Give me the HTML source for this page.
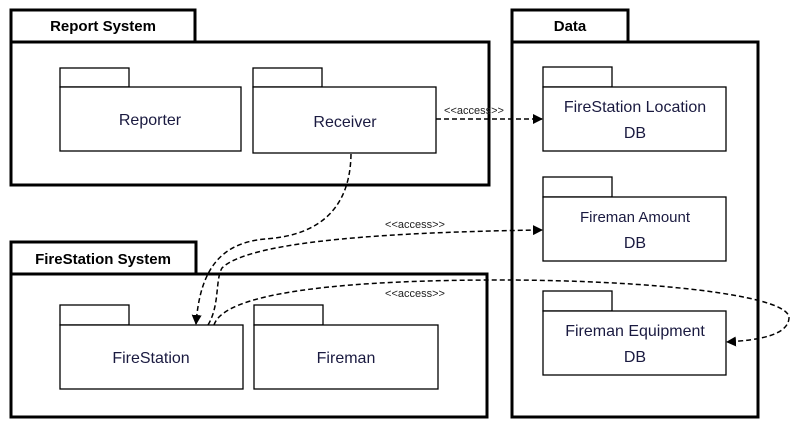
<!DOCTYPE html>
<html><head><meta charset="utf-8"><style>
body{margin:0;background:#fff;}
svg text{font-family:"Liberation Sans",sans-serif;}
</style></head><body>
<svg width="803" height="429" viewBox="0 0 803 429" xmlns="http://www.w3.org/2000/svg">
<defs><marker id="a" markerWidth="10" markerHeight="10" refX="9" refY="5" orient="auto" markerUnits="userSpaceOnUse"><path d="M0,0 L10,5 L0,10 z" fill="#000"/></marker></defs>
<g fill="none" stroke="#000" stroke-width="3">
<rect x="11" y="10" width="184" height="32"/><rect x="11" y="42" width="478" height="143"/>
<rect x="11" y="242" width="185" height="32"/><rect x="11" y="274" width="476" height="143"/>
<rect x="512" y="10" width="116" height="32"/><rect x="512" y="42" width="246" height="375"/>
</g>
<g fill="#fff" stroke="#000" stroke-width="1.3">
<rect x="60" y="68" width="69" height="19"/><rect x="60" y="87" width="181" height="64"/>
<rect x="253" y="68" width="69" height="19"/><rect x="253" y="87" width="183" height="66"/>
<rect x="60" y="305" width="69" height="20"/><rect x="60" y="325" width="183" height="64"/>
<rect x="254" y="305" width="69" height="20"/><rect x="254" y="325" width="184" height="64"/>
<rect x="543" y="67" width="69" height="20"/><rect x="543" y="87" width="183" height="64"/>
<rect x="543" y="177" width="69" height="20"/><rect x="543" y="197" width="183" height="64"/>
<rect x="543" y="291" width="69" height="20"/><rect x="543" y="311" width="183" height="64"/>
</g>
<g font-weight="bold" font-size="15" fill="#000">
<text x="103" y="31" text-anchor="middle">Report  System</text>
<text x="103" y="264" text-anchor="middle">FireStation  System</text>
<text x="570" y="31" text-anchor="middle">Data</text>
</g>
<g font-size="16" fill="#1a1a40" text-anchor="middle">
<text x="150" y="125">Reporter</text>
<text x="345" y="127">Receiver</text>
<text x="151" y="363">FireStation</text>
<text x="346" y="363">Fireman</text>
<text x="635" y="112">FireStation  Location</text><text x="635" y="138">DB</text>
<text x="635" y="222" font-size="15">Fireman  Amount</text><text x="635" y="248">DB</text>
<text x="635" y="336">Fireman  Equipment</text><text x="635" y="362">DB</text>
</g>
<g fill="none" stroke="#000" stroke-width="1.5" stroke-dasharray="5,3">
<path d="M436,119 L542,119" marker-end="url(#a)"/>
<path d="M351,154 C350,230 290,237 265,239 C220,243 200,270 196,324" marker-end="url(#a)"/>
<path d="M208,325 C220,305 215,280 222,268 C250,240 400,232 542,230" marker-end="url(#a)"/>
<path d="M214,325 C225,290 360,280 500,280 C650,280 790,295 789,318 C788,335 760,340 727,342" marker-end="url(#a)"/>
</g>
<g font-size="11" fill="#222" text-anchor="middle">
<text x="474" y="114">&lt;&lt;access&gt;&gt;</text>
<text x="415" y="228">&lt;&lt;access&gt;&gt;</text>
<text x="415" y="297">&lt;&lt;access&gt;&gt;</text>
</g>
</svg>
</body></html>
